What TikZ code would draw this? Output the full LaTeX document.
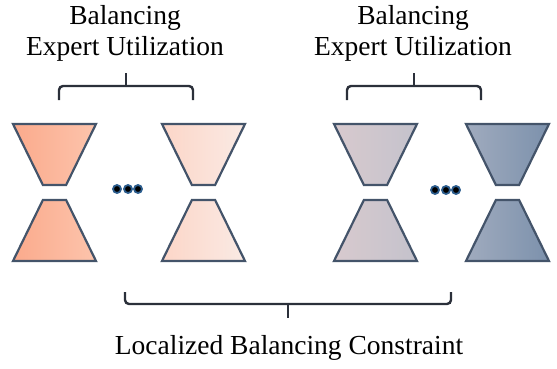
\documentclass[tikz,border=0pt]{standalone}
\usepackage{fontspec}
\setmainfont{Liberation Serif}
\definecolor{outl}{HTML}{44546A}
\definecolor{brc}{HTML}{2B303A}
\definecolor{dotring}{HTML}{2E5F8F}
\definecolor{aL}{RGB}{251,170,140}
\definecolor{aR}{RGB}{252,196,172}
\definecolor{bL}{RGB}{252,214,200}
\definecolor{bR}{RGB}{250,234,228}
\definecolor{cL}{RGB}{216,202,206}
\definecolor{cR}{RGB}{196,194,204}
\definecolor{dL}{RGB}{160,171,190}
\definecolor{dR}{RGB}{124,145,172}
\tikzset{
  trap/.style={draw=outl, line width=2.2pt, line join=miter},
  bracepath/.style={draw=brc, line width=2.4pt, rounded corners=4pt},
  lbl/.style={font=\fontsize{27.5}{31}\selectfont, align=center, inner sep=0pt},
  dotmark/.style={circle, fill=black, draw=dotring, line width=1.8pt, minimum size=8pt, inner sep=0pt}
}
\newcommand{\expertpair}[4]{%
  \pgfmathsetmacro{\wa}{#1}\pgfmathsetmacro{\wb}{#2}
  \pgfmathsetmacro{\na}{#1+(#2-#1)*0.36}\pgfmathsetmacro{\nb}{#2-(#2-#1)*0.36}
  \shade[trap, left color=#3, right color=#4] (\wa,124) -- (\wb,124) -- (\nb,185) -- (\na,185) -- cycle;
  \shade[trap, left color=#3, right color=#4] (\na,200) -- (\nb,200) -- (\wb,261) -- (\wa,261) -- cycle;
}
\begin{document}
\begin{tikzpicture}[x=1pt,y=-1pt]
\useasboundingbox (0,0) rectangle (557,369);
\expertpair{13}{96}{aL}{aR}
\expertpair{162}{245}{bL}{bR}
\expertpair{334}{417}{cL}{cR}
\expertpair{466}{549}{dL}{dR}
% dots
\node[dotmark] (d1) at (117,189) {};
\node[dotmark] (d2) at (128,189) {};
\node[dotmark] (d3) at (138,189) {};
\node[dotmark] (d4) at (435,190) {};
\node[dotmark] (d5) at (446,190) {};
\node[dotmark] (d6) at (456,190) {};
% top braces
\draw[bracepath] (59,100) -- (59,86) -- (126,86);
\draw[bracepath] (193,100) -- (193,86) -- (126,86);
\draw[draw=brc, line width=2.4pt] (126,87) -- (126,73);
\draw[bracepath] (347,100) -- (347,86) -- (414,86);
\draw[bracepath] (481,100) -- (481,86) -- (414,86);
\draw[draw=brc, line width=2.4pt] (414,87) -- (414,73);
% bottom brace
\draw[bracepath] (125,292) -- (125,304) -- (288,304);
\draw[bracepath] (451,292) -- (451,304) -- (288,304);
\draw[draw=brc, line width=2.4pt] (288,303) -- (288,318);
% labels
\node[lbl] (t1) at (125,33) {Balancing\\Expert Utilization};
\node[lbl] (t2) at (413,33) {Balancing\\Expert Utilization};
\node[lbl] (t3) at (289,348) {Localized Balancing Constraint};
\end{tikzpicture}
\end{document}
